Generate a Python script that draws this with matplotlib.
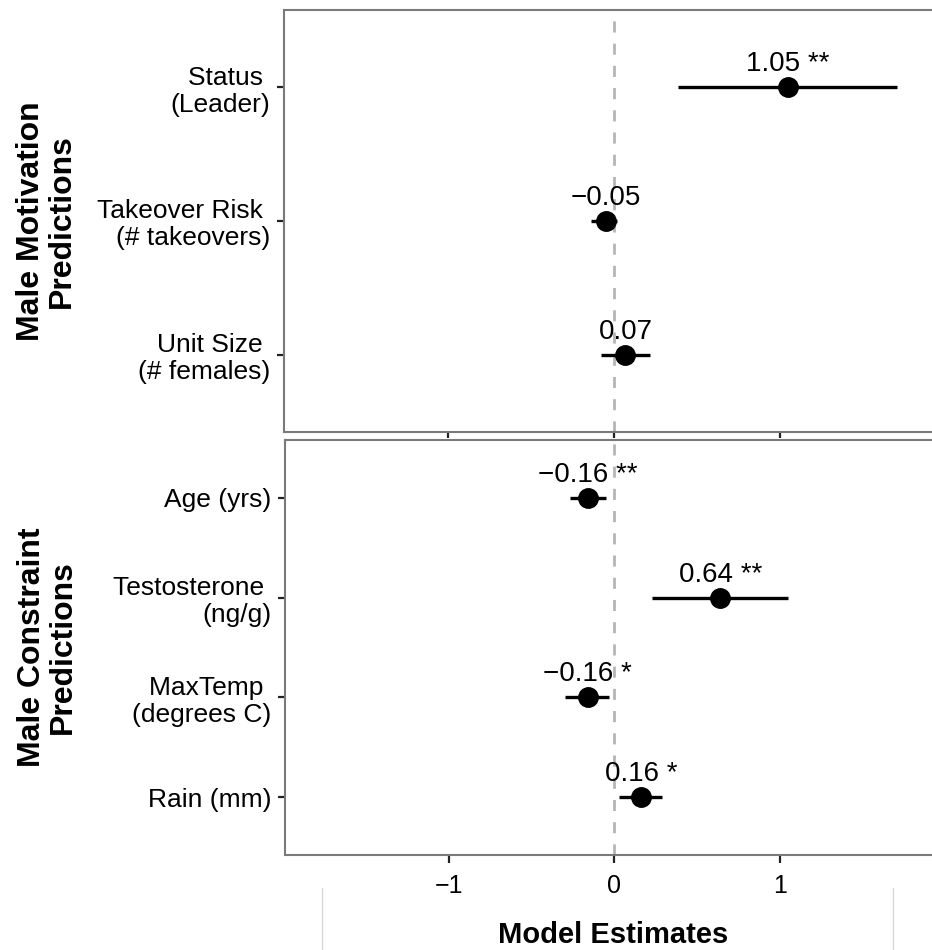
import matplotlib
matplotlib.use("Agg")
import matplotlib.pyplot as plt
from matplotlib.lines import Line2D

plt.rcParams['font.family'] = ['Liberation Sans', 'DejaVu Sans']

# Male motivation predictors (top panel, listed top to bottom)
motiv_labels = ["Status \n(Leader)", "Takeover Risk \n(# takeovers)", "Unit Size \n(# females)"]
motiv_est = [1.05, -0.05, 0.07]
motiv_lo = [0.39, -0.14, -0.08]
motiv_hi = [1.71, 0.02, 0.22]
motiv_sig = ["**", "", ""]

# Male constraint predictors (bottom panel, listed top to bottom)
constr_labels = ["Age (yrs)", "Testosterone \n(ng/g)", "MaxTemp \n(degrees C)", "Rain (mm)"]
constr_est = [-0.16, 0.64, -0.16, 0.16]
constr_lo = [-0.27, 0.23, -0.30, 0.03]
constr_hi = [-0.05, 1.05, -0.03, 0.29]
constr_sig = ["**", "**", "*", "*"]

x_ticks = [-1, 0, 1]
x_lim = (-1.99, 1.98)

W, H = 932, 950
fig = plt.figure(figsize=(W / 100, H / 100), dpi=100)

SPINE = "#7a7a7a"


def fmt(v):
    s = f"{abs(v):.2f}"
    return ("\u2212" + s) if v < 0 else s


def panel(rect, labels, est, lo, hi, sig, ylab, show_xlabels, xtick_len):
    ax = fig.add_axes(rect)
    n = len(labels)
    ys = list(range(n, 0, -1))
    ax.axvline(0, color="#b5b5b5", lw=2, ls=(0, (4, 4)), zorder=1)
    for y, e, l, h, s in zip(ys, est, lo, hi, sig):
        ax.plot([l, h], [y, y], color="black", lw=2.4, solid_capstyle="butt", zorder=2)
        ax.plot([e], [y], "o", color="black", ms=14, zorder=3)
        txt = fmt(e) + ((" " + s) if s else "")
        ax.annotate(txt, (e, y), xytext=(0, 16), textcoords="offset pixels",
                    ha="center", va="baseline", fontsize=20, zorder=4)
    ax.set_xlim(*x_lim)
    ax.set_ylim(0.42, n + 0.58)
    ax.set_yticks(ys)
    ax.set_yticklabels(labels, fontsize=19, ha="right", linespacing=1.15)
    ax.set_xticks(x_ticks)
    if show_xlabels:
        ax.set_xticklabels([("\u2212" + str(abs(t))) if t < 0 else str(t) for t in x_ticks],
                           fontsize=18)
    else:
        ax.set_xticklabels([])
    ax.tick_params(axis="y", length=5, width=1.6, color="#222222", pad=5)
    ax.tick_params(axis="x", length=xtick_len, width=1.6, color="#222222", pad=8)
    for sp in ax.spines.values():
        sp.set_color(SPINE)
        sp.set_linewidth(1.5)
    ax.set_ylabel(ylab, fontsize=23, fontweight="bold", linespacing=1.05)
    ax.yaxis.set_label_coords(-0.315, 0.5)
    return ax


ax1 = panel([284 / W, (H - 432) / H, (942 - 284) / W, 422 / H],
            motiv_labels, motiv_est, motiv_lo, motiv_hi, motiv_sig,
            "Male Motivation\nPredictions", False, 4)
ax2 = panel([285 / W, (H - 855) / H, (942 - 285) / W, 415 / H],
            constr_labels, constr_est, constr_lo, constr_hi, constr_sig,
            "Male Constraint\nPredictions", True, 6)

fig.text(613 / W, (H - 935) / H, "Model Estimates", fontsize=21, fontweight="bold",
         ha="center", va="center")

for xp in (322, 893):
    fig.add_artist(Line2D([xp / W, xp / W], [0, (H - 888) / H], color="#d8d8d8", lw=1))

fig.savefig("out.png", dpi=100)
